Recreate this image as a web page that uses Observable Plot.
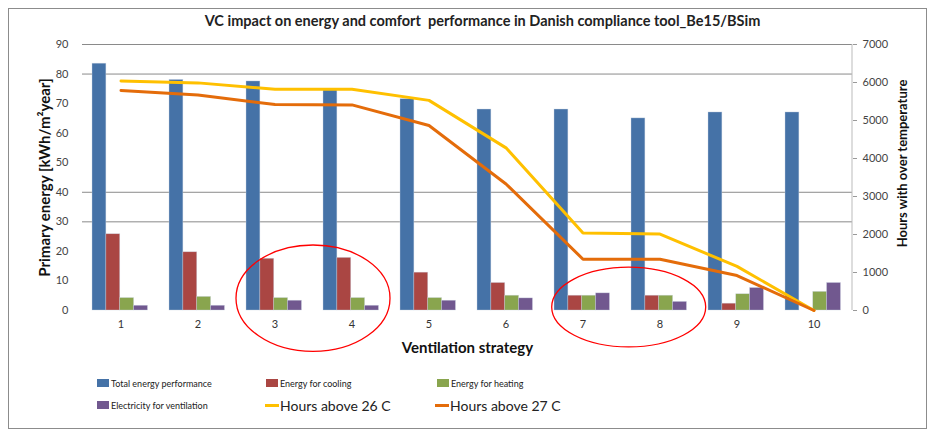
<!DOCTYPE html>
<html><head><meta charset="utf-8">
<script src="https://cdn.jsdelivr.net/npm/d3@7"></script>
<script src="https://cdn.jsdelivr.net/npm/@observablehq/plot@0.6"></script>
<style>
body{margin:0;background:#fff;font-family:Lato,"Open Sans",sans-serif;}
#frame{position:absolute;left:8px;top:8px;width:917px;height:419px;border:1px solid #8c8c8c;}
#title{position:absolute;left:0;top:12px;width:965px;text-align:center;font-weight:bold;font-size:14.5px;color:#222;white-space:pre;}
#chart{position:absolute;left:0;top:34px;}
.li{position:absolute;font-size:9px;color:#222;white-space:nowrap;display:flex;align-items:center;height:14px;}
.sw{display:inline-block;width:12px;height:8px;margin-right:2px;}
.ln{display:inline-block;width:14px;height:3px;margin-right:1px;}
.big{font-size:14px;}
</style></head><body>
<div id="frame"></div>
<div id="title">VC impact on energy and comfort  performance in Danish compliance tool_Be15/BSim</div>
<div id="chart"></div>
<div id="legend"></div>
<script>
const categories = ["1","2","3","4","5","6","7","8","9","10"];
const totalEnergy = [83.5, 78, 77.5, 74.5, 71.5, 68, 68, 65, 67, 67];
const cooling = [25.8, 19.7, 17.5, 17.8, 12.8, 9.3, 5, 5, 2.3, 0];
const heating = [4.2, 4.6, 4.2, 4.2, 4.2, 5, 5, 5, 5.5, 6.3];
const ventilation = [1.6, 1.6, 3.3, 1.6, 3.3, 4.1, 5.8, 2.9, 7.6, 9.3];
const hours26 = [6040, 5990, 5820, 5820, 5530, 4280, 2040, 2010, 1160, 0];
const hours27 = [5790, 5670, 5420, 5410, 4870, 3330, 1350, 1350, 920, 0];
const leftTicks = [0, 10, 20, 30, 40, 50, 60, 70, 80, 90];
const rightTicks = [0, 1000, 2000, 3000, 4000, 5000, 6000, 7000];
const gridValues = [30, 40, 80, 90];
const leftMax = 90, rightMax = 7000;
const barSeries = [
  {name: "Total energy performance", values: totalEnergy, color: "#4572A7"},
  {name: "Energy for cooling", values: cooling, color: "#AA4643"},
  {name: "Energy for heating", values: heating, color: "#89A54E"},
  {name: "Electricity for ventilation", values: ventilation, color: "#71588F"}
];
const lineSeries = [
  {name: "Hours above 26 C", values: hours26, color: "#FFC000"},
  {name: "Hours above 27 C", values: hours27, color: "#E46C0A"}
];
const annotations = [
  {from: "3", to: "4", yCenter: 4, yRadius: 18, shift: 0},
  {from: "7", to: "8", yCenter: 1, yRadius: 13.5, shift: 0.1}
];

const W = 935, H = 330, mL = 82, mR = 83, mT = 10, mB = 54;
const bw = (W - mL - mR) / categories.length;
const groupStart = 0.13, barFrac = 0.18;
const toLeft = v => v * leftMax / rightMax;

const marks = [];
marks.push(Plot.ruleY(gridValues, {stroke: "#8a8a8a", strokeWidth: 1}));
barSeries.forEach((s, i) => {
  const left = bw * (groupStart + i * barFrac);
  const right = bw - left - bw * barFrac;
  marks.push(Plot.barY(categories.map((c, j) => ({c, v: s.values[j]})), {
    x: "c", y: "v", fill: s.color, insetLeft: left, insetRight: right,
    stroke: "#c9d3e3", strokeWidth: 0.6, strokeOpacity: 0.6
  }));
});
lineSeries.forEach(s => {
  marks.push(Plot.line(categories.map((c, j) => ({c, v: toLeft(s.values[j])})), {
    x: "c", y: "v", stroke: s.color, strokeWidth: 3, strokeLinejoin: "round"
  }));
});
marks.push(Plot.ruleX([0], {frameAnchor: "left", stroke: "#bbb"}));
marks.push(Plot.axisY(leftTicks, {anchor: "left", tickSize: 0, tickPadding: 14, fontSize: 11, fill: "#444", label: null}));
marks.push(Plot.axisY(rightTicks.map(toLeft), {anchor: "right", tickSize: 4, tickPadding: 6, stroke: "#999", fontSize: 11, fill: "#444",
  tickFormat: d => String(Math.round(d * rightMax / leftMax)), label: null}));
marks.push(Plot.axisX(categories, {anchor: "bottom", tickSize: 0, tickPadding: 10, fontSize: 11, fill: "#333", label: null}));
marks.push(Plot.text(["Primary energy [kWh/m\u00b2year]"], {frameAnchor: "left", textAnchor: "middle", dx: -37, rotate: -90, fontSize: 15, fontWeight: "bold", fill: "#111"}));
marks.push(Plot.text(["Hours with over temperature"], {frameAnchor: "right", textAnchor: "middle", dx: 50, dy: -14, rotate: -90, fontSize: 13, fontWeight: "bold", fill: "#111"}));
marks.push(Plot.text(["Ventilation strategy"], {frameAnchor: "bottom", dy: 42, fontSize: 15, fontWeight: "bold", fill: "#111"}));

const plot = Plot.plot({
  width: W, height: H,
  marginLeft: mL, marginRight: mR, marginTop: mT, marginBottom: mB,
  style: {fontFamily: "Lato, 'Open Sans', sans-serif", background: "transparent", overflow: "visible"},
  x: {domain: categories, type: "band", padding: 0, axis: null},
  y: {domain: [0, leftMax], axis: null},
  marks
});
document.getElementById("chart").appendChild(plot);

const xs = plot.scale("x"), ys = plot.scale("y");
const svg = d3.select(plot);
svg.append("line").attr("x1", W - mR).attr("x2", W - mR).attr("y1", ys.apply(leftMax)).attr("y2", ys.apply(0)).attr("stroke", "#bbb");
annotations.forEach(a => {
  const x1 = xs.apply(a.from), x2 = xs.apply(a.to) + xs.bandwidth;
  const cx = (x1 + x2) / 2 + a.shift * xs.bandwidth;
  const cy = ys.apply(a.yCenter), ry = ys.apply(0) - ys.apply(a.yRadius);
  svg.append("ellipse").attr("cx", cx).attr("cy", cy).attr("rx", (x2 - x1) / 2).attr("ry", ry)
    .attr("fill", "none").attr("stroke", "#ff0000").attr("stroke-width", 1.3);
});

const legend = document.getElementById("legend");
const legendItems = [
  {s: barSeries[0], kind: "bar", x: 97, y: 376},
  {s: barSeries[1], kind: "bar", x: 266, y: 376},
  {s: barSeries[2], kind: "bar", x: 437, y: 376},
  {s: barSeries[3], kind: "bar", x: 97, y: 398},
  {s: lineSeries[0], kind: "line", x: 265, y: 398},
  {s: lineSeries[1], kind: "line", x: 435, y: 398}
];
legendItems.forEach(it => {
  const d = document.createElement("div");
  d.className = "li" + (it.kind === "line" ? " big" : "");
  d.style.left = it.x + "px"; d.style.top = it.y + "px";
  const sw = document.createElement("span");
  sw.className = it.kind === "bar" ? "sw" : "ln";
  sw.style.background = it.s.color;
  d.appendChild(sw);
  d.appendChild(document.createTextNode(it.s.name));
  legend.appendChild(d);
});
</script>
</body></html>
